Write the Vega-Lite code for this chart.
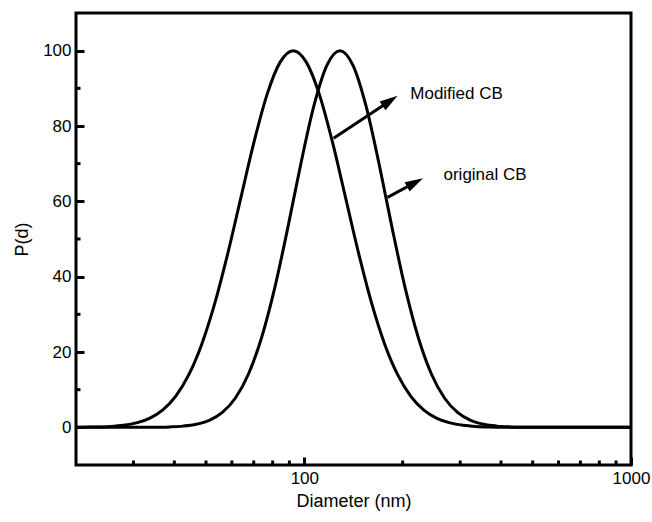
{
  "$schema": "https://vega.github.io/schema/vega-lite/v6.json",
  "width": 555,
  "height": 452,
  "autosize": "none",
  "padding": {"left": 76, "top": 13, "right": 21, "bottom": 57},
  "background": "white",
  "config": {
    "view": {"stroke": "black", "strokeWidth": 3},
    "axis": {"grid": false, "domain": false, "labelFont": "Liberation Sans", "labelFontSize": 17, "labelColor": "black", "titleFont": "Liberation Sans", "titleFontSize": 18, "titleFontWeight": "normal", "titleColor": "black", "tickColor": "black", "tickWidth": 3, "tickSize": 8, "offset": -8}
  },
  "datasets": {
    "curves": [
      {"series": "Modified CB", "d": 20, "p": 0},
      {"series": "Modified CB", "d": 21.18, "p": 0.04},
      {"series": "Modified CB", "d": 23.23, "p": 0.10},
      {"series": "Modified CB", "d": 25.47, "p": 0.24},
      {"series": "Modified CB", "d": 27.92, "p": 0.55},
      {"series": "Modified CB", "d": 30.62, "p": 1.18},
      {"series": "Modified CB", "d": 33.57, "p": 2.40},
      {"series": "Modified CB", "d": 36.81, "p": 4.58},
      {"series": "Modified CB", "d": 40.36, "p": 8.23},
      {"series": "Modified CB", "d": 44.26, "p": 13.91},
      {"series": "Modified CB", "d": 48.53, "p": 22.08},
      {"series": "Modified CB", "d": 53.21, "p": 32.96},
      {"series": "Modified CB", "d": 58.34, "p": 46.27},
      {"series": "Modified CB", "d": 63.97, "p": 61.06},
      {"series": "Modified CB", "d": 70.15, "p": 75.77},
      {"series": "Modified CB", "d": 76.91, "p": 88.40},
      {"series": "Modified CB", "d": 84.33, "p": 96.96},
      {"series": "Modified CB", "d": 92.47, "p": 100},
      {"series": "Modified CB", "d": 101.39, "p": 96.96},
      {"series": "Modified CB", "d": 111.17, "p": 88.40},
      {"series": "Modified CB", "d": 121.90, "p": 75.77},
      {"series": "Modified CB", "d": 133.66, "p": 61.06},
      {"series": "Modified CB", "d": 146.56, "p": 46.27},
      {"series": "Modified CB", "d": 160.70, "p": 32.96},
      {"series": "Modified CB", "d": 176.20, "p": 22.08},
      {"series": "Modified CB", "d": 193.20, "p": 13.91},
      {"series": "Modified CB", "d": 211.84, "p": 8.23},
      {"series": "Modified CB", "d": 232.28, "p": 4.58},
      {"series": "Modified CB", "d": 254.69, "p": 2.40},
      {"series": "Modified CB", "d": 279.26, "p": 1.18},
      {"series": "Modified CB", "d": 306.20, "p": 0.55},
      {"series": "Modified CB", "d": 335.74, "p": 0.24},
      {"series": "Modified CB", "d": 368.13, "p": 0.10},
      {"series": "Modified CB", "d": 403.65, "p": 0.04},
      {"series": "Modified CB", "d": 1000, "p": 0},
      {"series": "original CB", "d": 20, "p": 0},
      {"series": "original CB", "d": 32.29, "p": 0.01},
      {"series": "original CB", "d": 35.40, "p": 0.04},
      {"series": "original CB", "d": 38.82, "p": 0.12},
      {"series": "original CB", "d": 42.56, "p": 0.32},
      {"series": "original CB", "d": 46.67, "p": 0.80},
      {"series": "original CB", "d": 51.17, "p": 1.85},
      {"series": "original CB", "d": 56.11, "p": 3.95},
      {"series": "original CB", "d": 61.52, "p": 7.78},
      {"series": "original CB", "d": 67.46, "p": 14.16},
      {"series": "original CB", "d": 73.96, "p": 23.78},
      {"series": "original CB", "d": 81.10, "p": 36.88},
      {"series": "original CB", "d": 88.92, "p": 52.82},
      {"series": "original CB", "d": 97.50, "p": 69.83},
      {"series": "original CB", "d": 106.91, "p": 85.25},
      {"series": "original CB", "d": 117.22, "p": 96.09},
      {"series": "original CB", "d": 128.53, "p": 100},
      {"series": "original CB", "d": 140.93, "p": 96.09},
      {"series": "original CB", "d": 154.53, "p": 85.25},
      {"series": "original CB", "d": 169.43, "p": 69.83},
      {"series": "original CB", "d": 185.78, "p": 52.82},
      {"series": "original CB", "d": 203.70, "p": 36.88},
      {"series": "original CB", "d": 223.36, "p": 23.78},
      {"series": "original CB", "d": 244.91, "p": 14.16},
      {"series": "original CB", "d": 268.53, "p": 7.78},
      {"series": "original CB", "d": 294.44, "p": 3.95},
      {"series": "original CB", "d": 322.85, "p": 1.85},
      {"series": "original CB", "d": 354.00, "p": 0.80},
      {"series": "original CB", "d": 388.15, "p": 0.32},
      {"series": "original CB", "d": 425.60, "p": 0.12},
      {"series": "original CB", "d": 466.66, "p": 0.04},
      {"series": "original CB", "d": 511.68, "p": 0.01},
      {"series": "original CB", "d": 1000, "p": 0}
    ],
    "xminor": [{"d": 30}, {"d": 40}, {"d": 50}, {"d": 60}, {"d": 70}, {"d": 80}, {"d": 90}, {"d": 200}, {"d": 300}, {"d": 400}, {"d": 500}, {"d": 600}, {"d": 700}, {"d": 800}, {"d": 900}],
    "yminor": [{"p": 10}, {"p": 30}, {"p": 50}, {"p": 70}, {"p": 90}],
    "arrows": [
      {"name": "Modified CB", "d": 122.9, "p": 76.76, "d2": 181.3, "p2": 86.45, "td": 211.0, "tp": 88.55},
      {"name": "original CB", "d": 179.8, "p": 61.06, "d2": 216.1, "p2": 64.79, "td": 266.7, "tp": 67.0}
    ]
  },
  "layer": [
    {
      "data": {"name": "curves"},
      "mark": {"type": "line", "color": "black", "strokeWidth": 3, "interpolate": "monotone", "clip": true},
      "encoding": {
        "x": {"field": "d", "type": "quantitative", "scale": {"type": "log", "domain": [20, 1000], "nice": false},
          "axis": {"title": "Diameter (nm)", "values": [100, 1000], "format": "d",
            "labelPadding": 5, "titlePadding": 6, "labelFlush": false}},
        "y": {"field": "p", "type": "quantitative", "scale": {"domain": [-10, 110], "nice": false, "zero": false},
          "axis": {"title": "P(d)", "values": [0, 20, 40, 60, 80, 100],
            "labelPadding": 5, "titlePadding": 11}},
        "detail": {"field": "series", "type": "nominal"}
      }
    },
    {
      "data": {"name": "xminor"},
      "mark": {"type": "tick", "orient": "vertical", "color": "black", "thickness": 3, "size": 9, "clip": true, "opacity": 1},
      "encoding": {
        "x": {"field": "d", "type": "quantitative"},
        "y": {"datum": -10}
      }
    },
    {
      "data": {"name": "yminor"},
      "mark": {"type": "tick", "orient": "horizontal", "color": "black", "thickness": 3, "size": 9, "clip": true, "opacity": 1},
      "encoding": {
        "x": {"datum": 20},
        "y": {"field": "p", "type": "quantitative"}
      }
    },
    {
      "data": {"name": "arrows"},
      "mark": {"type": "rule", "color": "black", "strokeWidth": 3},
      "encoding": {
        "x": {"field": "d", "type": "quantitative"},
        "y": {"field": "p", "type": "quantitative"},
        "x2": {"field": "d2"},
        "y2": {"field": "p2"}
      }
    },
    {
      "data": {"name": "arrows"},
      "transform": [{"filter": "datum.name === 'Modified CB'"}],
      "mark": {"type": "point", "shape": "M0,-1L0.5,0.7L-0.5,0.7Z", "filled": true, "color": "black", "opacity": 1, "size": 450, "angle": 56.5},
      "encoding": {
        "x": {"field": "d2", "type": "quantitative"},
        "y": {"field": "p2", "type": "quantitative"}
      }
    },
    {
      "data": {"name": "arrows"},
      "transform": [{"filter": "datum.name === 'original CB'"}],
      "mark": {"type": "point", "shape": "M0,-1L0.5,0.7L-0.5,0.7Z", "filled": true, "color": "black", "opacity": 1, "size": 450, "angle": 61.8},
      "encoding": {
        "x": {"field": "d2", "type": "quantitative"},
        "y": {"field": "p2", "type": "quantitative"}
      }
    },
    {
      "data": {"name": "arrows"},
      "mark": {"type": "text", "align": "left", "baseline": "middle", "font": "Liberation Sans", "fontSize": 17, "color": "black"},
      "encoding": {
        "x": {"field": "td", "type": "quantitative"},
        "y": {"field": "tp", "type": "quantitative"},
        "text": {"field": "name"}
      }
    }
  ]
}
